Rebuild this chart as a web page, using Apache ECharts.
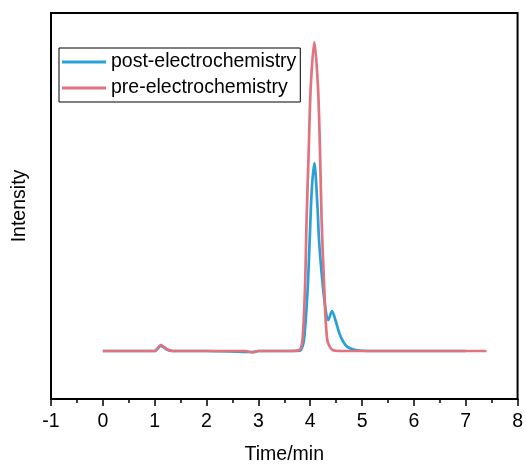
<!DOCTYPE html>
<html>
<head>
<meta charset="utf-8">
<script src="https://cdn.jsdelivr.net/npm/echarts@6/dist/echarts.min.js"></script>
<style>
  html, body { margin: 0; padding: 0; background: #fff; }
  #chart { width: 526px; height: 470px; }
</style>
</head>
<body>
<div id="chart"></div>
<script>
// series names (legend order)
var seriesNames = ["post-electrochemistry", "pre-electrochemistry"];

// post-electrochemistry trace (time in min, intensity in arbitrary units)
var postTime = [0, 0.9, 1.0, 1.12, 1.25, 1.35, 2.0, 2.89, 3.0, 3.6, 3.75, 3.82, 3.88, 3.95, 3.99, 4.03, 4.08, 4.14, 4.17, 4.22, 4.29, 4.35, 4.42, 4.48, 4.56, 4.64, 4.72, 4.88, 5.2, 6.0, 6.5, 7.0];
var postIntensity = [0, 0, 0, 5, 1, 0, 0, -1, 0, 0, 0, 1, 11, 61, 111, 161, 188, 144, 111, 78, 44, 31, 40, 32, 18, 9, 4, 1, 0, 0, 0, 0];

// pre-electrochemistry trace
var preTime = [0, 0.9, 1.0, 1.12, 1.25, 1.35, 2.0, 2.75, 2.89, 3.0, 3.6, 3.79, 3.85, 3.9, 3.93, 3.97, 4.01, 4.08, 4.15, 4.19, 4.22, 4.27, 4.33, 4.43, 4.6, 5.0, 6.0, 7.0, 7.4];
var preIntensity = [0, 0, 0, 6, 1.5, 0, 0, 0, -1.5, 0, 0, 1, 11, 64, 131, 198, 264, 309, 264, 198, 131, 64, 11, 1, 0, 0, 0, 0, 0];

// axis ranges
var timeMin = -1, timeMax = 8, timeStep = 1;
var intensityMin = -48, intensityMax = 338;

function pairs(xs, ys) {
  var out = [];
  for (var i = 0; i < xs.length; i++) out.push([xs[i], ys[i]]);
  return out;
}

var chart = echarts.init(document.getElementById("chart"));
var font = "Liberation Sans, Arial, sans-serif";

var option = {
  animation: false,
  grid: {
    left: 51, right: 7, top: 13, bottom: 71,
    show: true,
    borderColor: "#000",
    borderWidth: 2
  },
  legend: {
    data: seriesNames,
    orient: "vertical",
    left: 59,
    top: 48,
    padding: [4, 4, 4, 3],
    itemGap: 6,
    itemWidth: 44,
    itemHeight: 3,
    icon: "rect",
    borderColor: "#000",
    borderWidth: 1,
    textStyle: { fontFamily: font, fontSize: 19.5, color: "#000", lineHeight: 19 }
  },
  xAxis: {
    type: "value",
    min: timeMin,
    max: timeMax,
    interval: timeStep,
    name: "Time/min",
    nameLocation: "middle",
    nameGap: 46,
    nameTextStyle: { fontFamily: font, fontSize: 19.5, color: "#000" },
    axisLine: { onZero: false, lineStyle: { color: "#000", width: 2 } },
    axisTick: { show: true, inside: false, length: 7, lineStyle: { color: "#000", width: 1.5 } },
    minorTick: { show: true, splitNumber: 2, length: 4, lineStyle: { color: "#000", width: 1.5 } },
    axisLabel: { fontFamily: font, fontSize: 19.5, color: "#000", margin: 13 },
    splitLine: { show: false }
  },
  yAxis: {
    type: "value",
    min: intensityMin,
    max: intensityMax,
    name: "Intensity",
    nameLocation: "middle",
    nameGap: 21,
    nameTextStyle: { fontFamily: font, fontSize: 19.5, color: "#000" },
    axisLine: { show: true, onZero: false, lineStyle: { color: "#000", width: 2 } },
    axisTick: { show: false },
    axisLabel: { show: false },
    splitLine: { show: false }
  },
  series: [
    {
      name: seriesNames[0],
      type: "line",
      data: pairs(postTime, postIntensity),
      symbol: "none",
      smooth: 0.3,
      color: "#27a1d8",
      lineStyle: { width: 2.7, color: "#27a1d8" }
    },
    {
      name: seriesNames[1],
      type: "line",
      data: pairs(preTime, preIntensity),
      symbol: "none",
      smooth: 0.3,
      color: "#e0737f",
      lineStyle: { width: 2.7, color: "#e0737f" }
    }
  ]
};

chart.setOption(option);
</script>
</body>
</html>
